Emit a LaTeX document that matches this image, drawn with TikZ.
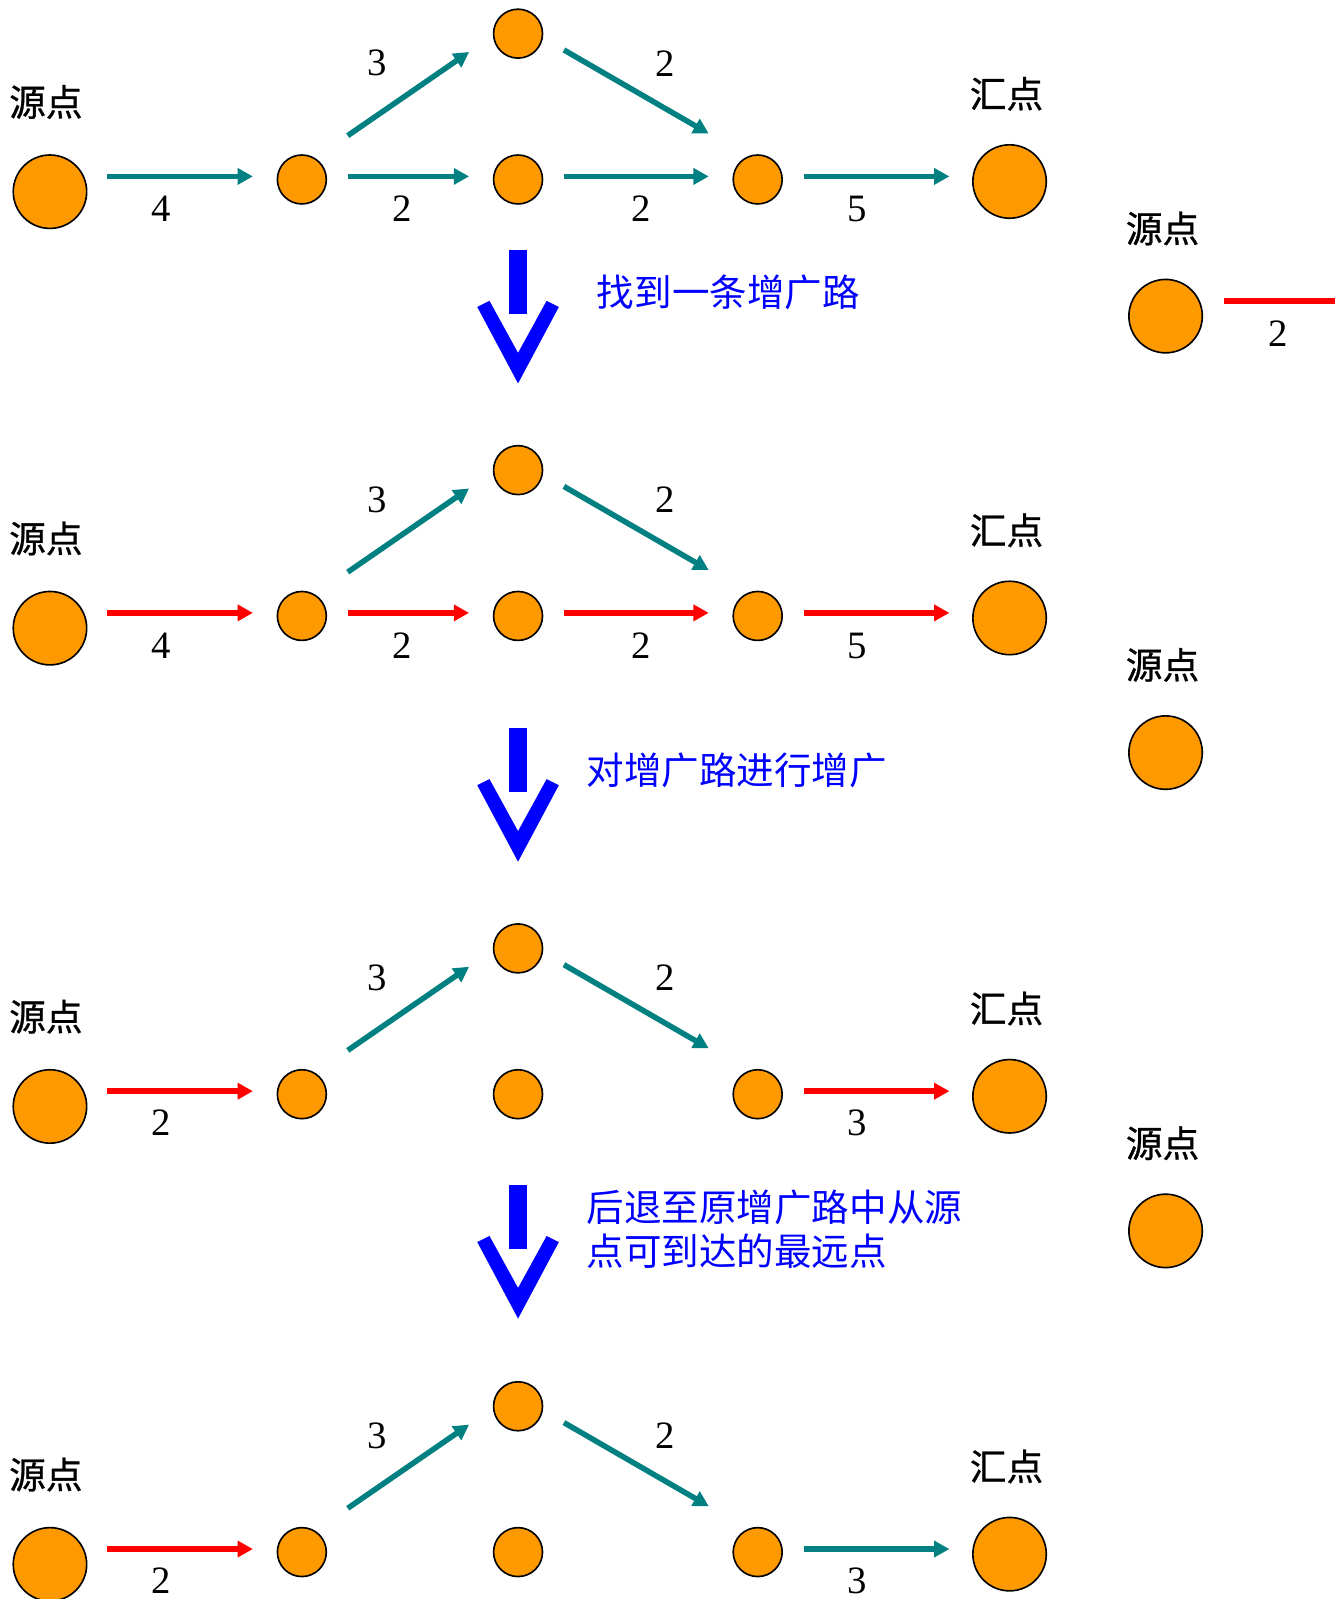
\documentclass[tikz,border=0pt]{standalone}
\usepackage{fontspec}
\setmainfont{Liberation Serif}
\newfontfamily\cjk{Noto Sans CJK SC}
\newfontfamily\cjkb[FakeBold=0.8]{Noto Sans CJK SC}
\usetikzlibrary{arrows.meta,calc}
\definecolor{tealc}{RGB}{0,128,128}
\definecolor{orangec}{RGB}{255,153,0}
\definecolor{bluec}{RGB}{0,0,255}
\begin{document}
\begin{tikzpicture}[x=0.5pt,y=-0.5pt,
  small/.style={circle,draw=black,fill=orangec,line width=0.8pt,minimum size=24pt,inner sep=0pt},
  big/.style={small,minimum size=36pt},
  ta/.style={draw=tealc,line width=2.7pt,-{Triangle[length=7.5pt,width=7.8pt]}},
  ra/.style={ta,draw=red},
  num/.style={font=\fontsize{19}{19}\selectfont,inner sep=0pt},
  lab/.style={font=\cjkb\fontsize{18}{18}\selectfont,inner sep=0pt},
  btxt/.style={font=\cjk\fontsize{18.4}{21.5}\selectfont,text=bluec,inner sep=0pt,anchor=west,align=left}]
\useasboundingbox (0,0) rectangle (1309,1568);
% four graphs
\foreach \i/\G in {1/176,2/604,3/1073,4/1522}{
  \node[big]   (s\i)   at (49,\G+12) {};
  \node[small] (a\i)   at (296,\G) {};
  \node[small] (top\i) at (508,\G-143) {};
  \node[small] (m\i)   at (508,\G) {};
  \node[small] (r\i)   at (743,\G) {};
  \node[big]   (t\i)   at (990,\G+2) {};
  \node[lab] (src\i) at (45,\G-76) {源点};
  \node[lab] (snk\i) at (987,\G-84) {汇点};
  \draw[ta] ($(a\i)+(45,-43)$) -- ($(top\i)+(-48,18)$);
  \draw[ta] ($(top\i)+(45,16)$) -- ($(r\i)+(-48,-45)$);
  \node[num] (wu\i) at (370,\G-114) {3};
  \node[num] (wd\i) at (652,\G-114) {2};
}
% graph 1
\draw[ta] ($(s1)+(56,-15)$) -- ($(a1)+(-48,-3)$);
\draw[ta] ($(a1)+(45,-3)$) -- ($(m1)+(-48,-3)$);
\draw[ta] ($(m1)+(45,-3)$) -- ($(r1)+(-48,-3)$);
\draw[ta] ($(r1)+(45,-3)$) -- ($(t1)+(-59,-5)$);
\node[num] (g1a) at (158,205) {4};
\node[num] (g1b) at (394,205) {2};
\node[num] (g1c) at (629,205) {2};
\node[num] (g1d) at (841,205) {5};
% graph 2
\draw[ra] ($(s2)+(56,-15)$) -- ($(a2)+(-48,-3)$);
\draw[ra] ($(a2)+(45,-3)$) -- ($(m2)+(-48,-3)$);
\draw[ra] ($(m2)+(45,-3)$) -- ($(r2)+(-48,-3)$);
\draw[ra] ($(r2)+(45,-3)$) -- ($(t2)+(-59,-5)$);
\node[num] (g2a) at (158,633) {4};
\node[num] (g2b) at (394,633) {2};
\node[num] (g2c) at (629,633) {2};
\node[num] (g2d) at (841,633) {5};
% graph 3
\draw[ra] ($(s3)+(56,-15)$) -- ($(a3)+(-48,-3)$);
\draw[ra] ($(r3)+(45,-3)$) -- ($(t3)+(-59,-5)$);
\node[num] (g3a) at (158,1101) {2};
\node[num] (g3d) at (841,1101) {3};
% graph 4
\draw[ra] ($(s4)+(56,-15)$) -- ($(a4)+(-48,-3)$);
\draw[ta] ($(r4)+(45,-3)$) -- ($(t4)+(-59,-5)$);
\node[num] (g4a) at (158,1550) {2};
\node[num] (g4d) at (841,1550) {3};
% right partial copies
\foreach \j/\Y in {1/310,2/738,3/1207}{
  \node[big] (p\j) at (1143,\Y) {};
  \node[lab] (plab\j) at (1140,\Y-86) {源点};
}
\coordinate (pend) at (1315,295);
\draw[draw=red,line width=2.7pt] ($(p1)+(57,-15)$) -- (pend);
\node[num] (pw) at (1253,327) {2};
% blue arrows
\foreach \tp in {376,845,1293}{
  \fill[bluec] (499,\tp-131) rectangle (517,\tp-68);
  \fill[bluec] (468,\tp-75) -- (480,\tp-81) -- (508,\tp-30) -- (536,\tp-81) -- (548,\tp-75) -- (508,\tp) -- cycle;
}
\node[btxt] (b1) at (585,287) {找到一条增广路};
\node[btxt] (b2) at (575,755) {对增广路进行增广};
\node[btxt] (b3) at (575,1205) {后退至原增广路中从源\\点可到达的最远点};
\end{tikzpicture}
\end{document}
